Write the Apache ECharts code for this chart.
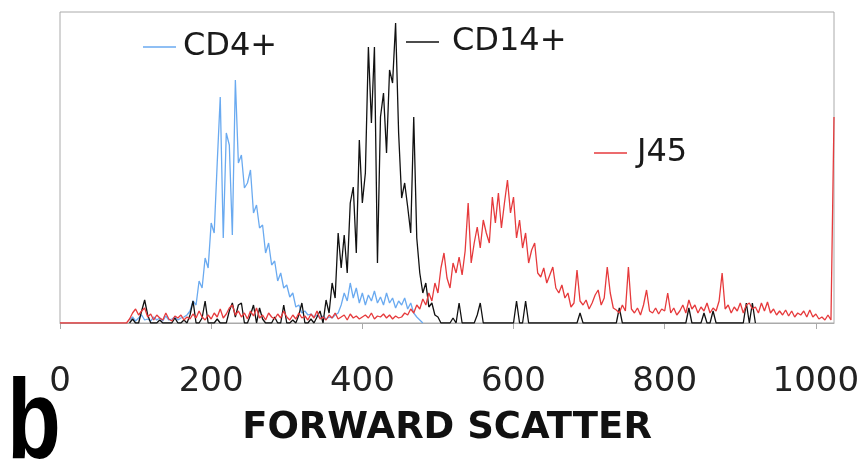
<!DOCTYPE html>
<html><head><meta charset="utf-8">
<script src="https://cdn.jsdelivr.net/npm/echarts@6/dist/echarts.min.js"></script>
<style>html,body{margin:0;padding:0;background:#fff}#c{width:868px;height:464px}</style>
</head><body><div id="c"></div>
<script>
// Flow cytometry forward-scatter histograms (channels 0-1024, bins of 4 channels)
const seriesNames = ['CD4+', 'CD14+', 'J45'];
const xTicks = [0, 200, 400, 600, 800, 1000];
const binWidth = 4;

const cd4Start = 92;
const cd4Counts = [3,6,2,5,8,3,4,2,6,3,5,2,7,3,4,6,3,5,
 6,8,12,22,18,42,35,65,55,100,90,160,226,85,190,178,88,243,160,168,
 135,140,153,110,118,95,98,70,80,58,62,42,50,35,38,26,30,16,18,10,
 12,8,9,6,8,5,7,4,6,5,8,10,18,30,22,40,25,35,20,30,
 18,28,22,32,20,26,18,30,20,25,15,22,18,25,14,20,10,6,3,0];

const cd14Start = 92;
const cd14Counts = [0,4,0,0,12,23,8,0,0,0,3,0,0,0,0,5,0,0,
 3,0,8,22,0,0,5,22,0,0,0,4,0,0,0,12,20,6,18,20,
 0,0,8,18,0,15,4,0,0,0,6,0,0,18,0,0,3,0,8,20,
 0,0,4,0,6,12,0,23,10,40,25,90,55,88,50,120,136,70,183,120,
 150,276,200,276,60,206,230,170,253,240,300,190,125,140,116,90,206,85,50,30,
 40,16,20,8,6,0,0,0,0,5,0,20,0,0,0,0,0,8,20,0,
 0,0,0,0,0,0,0,0,0,0,22,0,0,22,0,0,0,0,0,0,
 0,0,0,0,0,0,0,0,0,0,0,10,0,0,0,0,0,0,0,0,
 0,0,0,0,15,0,0,0,0,0,0,0,0,0,0,0,0,0,0,0,
 0,0,0,0,0,0,0,15,0,0,0,0,10,0,0,12,0,0,0,0,
 0,0,0,0,0,0,20,0,20,0];

const j45Start = 0;
const j45Counts = [0,0,0,0,0,0,0,0,0,0,0,0,0,0,0,0,0,0,0,0,0,0,0,
 4,10,14,8,12,15,6,9,3,8,5,3,10,4,2,7,5,8,
 3,6,4,9,5,12,6,3,8,4,10,6,14,5,9,15,18,8,12,6,
 10,4,12,7,15,5,8,3,10,6,4,9,5,12,6,3,8,4,10,5,
 7,3,9,5,12,4,6,3,8,5,10,4,6,8,3,9,5,7,4,6,
 8,5,10,4,7,6,9,5,8,4,7,5,
 6,10,8,14,10,18,14,24,18,30,22,40,30,55,70,45,35,60,50,66,
 48,72,120,60,80,96,75,103,90,80,126,100,130,95,120,143,110,126,85,103,
 75,90,60,73,80,50,46,55,40,48,56,35,30,38,25,30,16,20,53,22,
 18,23,14,20,28,33,18,25,56,30,15,13,10,18,12,56,14,10,15,8,
 18,33,12,10,15,9,14,12,30,10,15,8,12,18,10,23,14,18,10,16,
 12,20,10,15,12,22,50,14,18,10,16,12,20,10,18,20,14,16,10,20,
 12,21,10,14,8,12,8,13,7,12,6,10,8,12,6,13,6,9,4,6,
 3,8,3,206];

const colors = ['#6aaaf0', '#111111', '#e63a3c'];

function toPairs(start, counts) {
  return counts.map((c, i) => [start + i * binWidth, c]);
}
const seriesData = [toPairs(cd4Start, cd4Counts), toPairs(cd14Start, cd14Counts), toPairs(j45Start, j45Counts)];

const font = 'DejaVu Sans';
function legendAt(name, left, top, padLeft) {
  return {
    data: [name], left: left, top: top, padding: 0, selectedMode: false,
    icon: 'rect', itemWidth: 33, itemHeight: 1.5,
    textStyle: { fontFamily: font, fontSize: 32, color: '#1a1a1a', padding: [0, 0, 0, padLeft] }
  };
}

const chart = echarts.init(document.getElementById('c'), null, { renderer: 'canvas' });
chart.setOption({
  animation: false,
  backgroundColor: '#fff',
  grid: { left: 60, right: 34, top: 12, bottom: 141, show: true, borderColor: '#aaaaaa', borderWidth: 1 },
  legend: [
    legendAt(seriesNames[0], 143, 31, 2),
    legendAt(seriesNames[1], 406, 26, 8),
    legendAt(seriesNames[2], 594, 137, 5)
  ],
  xAxis: {
    type: 'value', min: 0, max: 1024, interval: 200,
    name: 'FORWARD SCATTER', nameLocation: 'middle', nameGap: 87,
    nameTextStyle: { fontFamily: font, fontSize: 37, fontWeight: 'bold', color: '#111' },
    axisLine: { show: true, lineStyle: { color: '#aaaaaa', width: 1 } },
    axisTick: { show: true, length: 6, lineStyle: { color: '#aaaaaa' }, customValues: xTicks },
    axisLabel: { fontFamily: font, fontSize: 34, color: '#222', margin: 42, customValues: xTicks,
      formatter: v => String(v) },
    splitLine: { show: false }
  },
  yAxis: {
    type: 'value', min: 0, max: 311,
    axisLine: { show: false }, axisTick: { show: false }, axisLabel: { show: false }, splitLine: { show: false }
  },
  graphic: [{
    type: 'text', x: 7, y: 370, scaleX: 0.78, scaleY: 1,
    style: { text: 'b', fontFamily: 'Liberation Sans', fontSize: 113, fontWeight: 'bold', fill: '#000',
      align: 'left', verticalAlign: 'top' }
  }],
  series: seriesNames.map((n, k) => ({
    name: n, type: 'line', data: seriesData[k], showSymbol: false, symbol: 'none',
    lineStyle: { width: 1.3, color: colors[k] }, itemStyle: { color: colors[k] }, z: 2 + k
  }))
});
</script></body></html>
